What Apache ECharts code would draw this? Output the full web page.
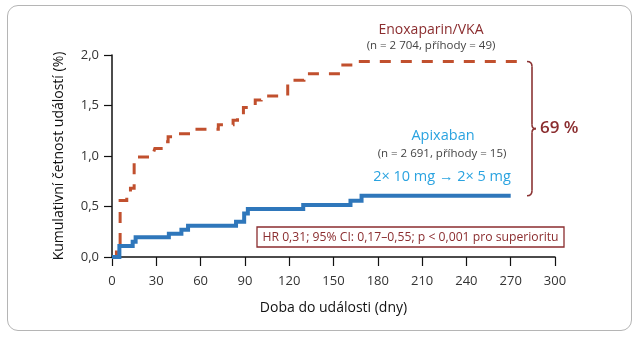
<!DOCTYPE html>
<html>
<head>
<meta charset="utf-8">
<script src="https://cdn.jsdelivr.net/npm/echarts@6/dist/echarts.min.js"></script>
<style>
html,body{margin:0;padding:0;background:#fff;}
#frame{position:absolute;left:7px;top:5px;width:623px;height:324px;border:1.5px solid #b5b5b5;border-radius:11px;}
#c{position:absolute;left:0;top:0;width:637px;height:338px;}
</style>
</head>
<body>
<div id="frame"></div>
<div id="c"></div>
<script>
// ---- data (days, cumulative event rate %) ----
const enoxDays   = [0, 3, 5.5, 10, 12.5, 15, 28, 29, 36, 38, 45, 54, 72, 82, 85, 89, 97, 101, 119, 122, 130, 132, 155, 166, 275];
const enoxValues = [0, 0.1, 0.56, 0.62, 0.68, 0.99, 1.03, 1.075, 1.14, 1.19, 1.22, 1.265, 1.31, 1.355, 1.40, 1.48, 1.555, 1.595, 1.71, 1.75, 1.77, 1.815, 1.90, 1.935, 1.935];
const apixDays   = [0, 5, 14, 16, 38.5, 47, 51.5, 84, 89.5, 92, 129.5, 161.5, 169, 270];
const apixValues = [0, 0.11, 0.15, 0.195, 0.23, 0.27, 0.31, 0.35, 0.43, 0.475, 0.515, 0.557, 0.607, 0.607];
const xTicks = [0, 30, 60, 90, 120, 150, 180, 210, 240, 270, 300];
const yTicks = [0, 0.5, 1.0, 1.5, 2.0];

const FONT = 'Open Sans';
const enox = enoxDays.map((d, i) => [d, enoxValues[i]]);
const apix = apixDays.map((d, i) => [d, apixValues[i]]);

const chart = echarts.init(document.getElementById('c'), null, {renderer: 'canvas'});
chart.setOption({
  animation: false,
  backgroundColor: 'transparent',
  textStyle: {fontFamily: FONT},
  grid: {left: 112, right: 82, top: 55, bottom: 81, containLabel: false, outerBoundsMode: 'none'},
  xAxis: {
    type: 'value', min: xTicks[0], max: xTicks[xTicks.length - 1], interval: 30,
    axisLine: {lineStyle: {color: '#111', width: 1.5}},
    axisTick: {length: 9, lineStyle: {color: '#111', width: 1.2}},
    axisLabel: {fontSize: 13, color: '#333', margin: 18, fontFamily: FONT},
    splitLine: {show: false},
    name: 'Doba do události (dny)', nameLocation: 'middle', nameGap: 44,
    nameTextStyle: {fontSize: 14, color: '#111', fontFamily: FONT}
  },
  yAxis: {
    type: 'value', min: yTicks[0], max: yTicks[yTicks.length - 1], interval: 0.5,
    axisLine: {show: true, lineStyle: {color: '#111', width: 1.5}},
    axisTick: {show: true, length: 8, lineStyle: {color: '#111', width: 1.2}},
    axisLabel: {fontSize: 13, color: '#333', margin: 13, fontFamily: FONT,
      formatter: v => v.toFixed(1).replace('.', ',')},
    splitLine: {show: false},
    name: 'Kumulativní četnost událostí (%)', nameLocation: 'middle', nameGap: 46, nameRotate: 90,
    nameTextStyle: {fontSize: 14, color: '#111', fontFamily: FONT}
  },
  series: [
    {type: 'line', name: 'Enoxaparin/VKA', data: enox, step: 'end', symbol: 'none',
     lineStyle: {color: '#c1502e', width: 3, type: [11, 10], join: 'miter'}, z: 3},
    {type: 'line', name: 'Apixaban', data: apix, step: 'end', symbol: 'none',
     lineStyle: {color: '#2f77bb', width: 4, join: 'miter'}, z: 4}
  ]
});

// annotations
const pTop = chart.convertToPixel({gridIndex: 0}, [enoxDays[enoxDays.length - 1], enoxValues[enoxValues.length - 1]]);
const pBot = chart.convertToPixel({gridIndex: 0}, [apixDays[apixDays.length - 1], apixValues[apixValues.length - 1]]);
const bx = 527, y1 = pTop[1], y2 = pBot[1], ym = (y1 + y2) / 2;
const braceStroke = {stroke: '#8b3434', lineWidth: 1.6, fill: null};
const braceParts = [
  {type: 'bezierCurve', shape: {x1: bx, y1: y1, x2: bx + 5, y2: y1 + 5, cpx1: bx + 5, cpy1: y1}, style: braceStroke},
  {type: 'line', shape: {x1: bx + 5, y1: y1 + 5, x2: bx + 5, y2: ym - 4}, style: braceStroke},
  {type: 'bezierCurve', shape: {x1: bx + 5, y1: ym - 4, x2: bx + 9, y2: ym, cpx1: bx + 5, cpy1: ym}, style: braceStroke},
  {type: 'bezierCurve', shape: {x1: bx + 9, y1: ym, x2: bx + 5, y2: ym + 4, cpx1: bx + 5, cpy1: ym}, style: braceStroke},
  {type: 'line', shape: {x1: bx + 5, y1: ym + 4, x2: bx + 5, y2: y2 - 5}, style: braceStroke},
  {type: 'bezierCurve', shape: {x1: bx + 5, y1: y2 - 5, x2: bx, y2: y2, cpx1: bx + 5, cpy1: y2}, style: braceStroke}
];

const darkRed = '#8b2d2f';
const lightBlue = '#2aa3e0';
chart.setOption({
  graphic: braceParts.concat([
    {type: 'text', x: 540, y: ym, style: {text: '69 %', font: `600 17px "${FONT}"`, fill: darkRed, textVerticalAlign: 'middle'}},
    {type: 'text', x: 431, y: 30, style: {text: 'Enoxaparin/VKA', font: `14px "${FONT}"`, fill: darkRed, textAlign: 'center', textVerticalAlign: 'middle'}},
    {type: 'text', x: 431, y: 45.5, style: {text: '(n = 2 704, příhody = 49)', font: `11.5px "${FONT}"`, fill: '#444', textAlign: 'center', textVerticalAlign: 'middle'}},
    {type: 'text', x: 443, y: 136, style: {text: 'Apixaban', font: `14.5px "${FONT}"`, fill: lightBlue, textAlign: 'center', textVerticalAlign: 'middle'}},
    {type: 'text', x: 442, y: 153.5, style: {text: '(n = 2 691, příhody = 15)', font: `11.5px "${FONT}"`, fill: '#444', textAlign: 'center', textVerticalAlign: 'middle'}},
    {type: 'text', x: 442, y: 176.5, style: {text: '2× 10 mg → 2× 5 mg', font: `14.5px "${FONT}"`, fill: lightBlue, textAlign: 'center', textVerticalAlign: 'middle'}},
    {type: 'rect', shape: {x: 257, y: 227, width: 307, height: 20}, style: {fill: '#fff', stroke: darkRed, lineWidth: 1.3}, z: 10},
    {type: 'text', x: 410.5, y: 237.5, z: 11, style: {text: 'HR 0,31; 95% CI: 0,17–0,55; p < 0,001 pro superioritu', font: `12.2px "${FONT}"`, fill: darkRed, textAlign: 'center', textVerticalAlign: 'middle'}}
  ])
});
</script>
</body>
</html>
